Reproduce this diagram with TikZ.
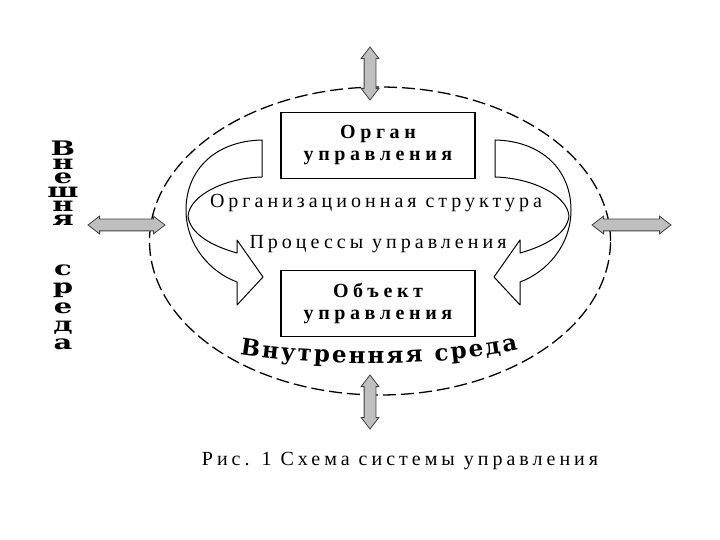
\documentclass[tikz,border=0pt]{standalone}
\usepackage{fontspec}
\setmainfont{Liberation Serif}
\newfontfamily\widefont[LetterSpace=20]{Liberation Serif}
\newfontfamily\boxfont[LetterSpace=23]{Liberation Serif}
\newfontfamily\heavyfont{DejaVu Serif}
\newfontfamily\stackfont[FakeStretch=1.45]{DejaVu Serif}
\usepackage{tikz}
\usetikzlibrary{
  positioning, shapes.geometric, shapes.arrows, decorations.text
}
\newcommand{\bentarrowpath}{(262,140) .. controls (215,141) and (186,170) .. (186,210)
  .. controls (186,245) and (210,272) .. (237,282) -- (237,305) -- (263,277)
  -- (237,240) -- (237,253) .. controls (212,246) and (190,234) .. (188,216)
  .. controls (190,195) and (225,178) .. (262,177) -- cycle}

\begin{document}
\begin{tikzpicture}[
  x=1pt, y=-1pt,
  unitbox/.style={draw, line width=1.6pt, minimum width=194pt, minimum height=66pt,
    align=center, font=\boxfont\bfseries\fontsize{20}{22}\selectfont},
  inscr/.style={font=\widefont\fontsize{20}{22}\selectfont, inner sep=0pt},
  envarrow/.style={double arrow, draw=black!75, fill=gray!50, line width=0.8pt,
    double arrow head extend=3pt, double arrow tip angle=75, inner sep=5.5pt},
  bentshape/.style={draw, fill=white, line width=1pt, line join=round},
  outer/.style={font=\stackfont\bfseries\fontsize{20}{14}\selectfont, inner sep=0pt,
    align=center},
]
\useasboundingbox (0,0) rectangle (720,540);

% Internal environment
\node[draw, ellipse, dash pattern=on 13pt off 5pt, line width=1.3pt,
  minimum width=461pt, minimum height=308pt] (inner) at (380,241) {};

% Bent arrows
\path[bentshape] \bentarrowpath;
\begin{scope}[xshift=757pt, xscale=-1]
  \path[bentshape] \bentarrowpath;
\end{scope}

% Boxes
\node[unitbox] (organ) at (378,145.5) {Орган\\управления};
\node[unitbox] (object) at (378,303.5) {Объект\\управления};

% Labels
\node[inscr] (orgstr) at (376,203) {Организационная структура};
\node[inscr] (proc) at (378,244) {Процессы управления};
\path[decorate, decoration={text along path, text align=fit to path,
  text={|\heavyfont\bfseries\fontsize{23}{23}\selectfont|Внутренняя среда}}]
  (240,354) .. controls (320,367) and (440,367) .. (518,350);

% External environment
\node[outer, anchor=north] (extenv) at (63,141)
  {В\\н\\е\\ш\\н\\я\\[36pt]с\\[4pt]р\\[4pt]е\\[4pt]д\\[4pt]а};

% Exchange arrows
\node[envarrow, minimum height=53pt, rotate=90] (upx) at (370,73.5) {};
\node[envarrow, minimum height=54pt, rotate=90] (downx) at (370,402) {};
\node[envarrow, minimum height=77pt] (leftx) at (126.5,225) {};
\node[envarrow, minimum height=79pt] (rightx) at (631.5,225) {};

% Caption
\node[inscr] (caption) at (400,461) {Рис. 1 Схема системы управления};

\end{tikzpicture}
\end{document}
